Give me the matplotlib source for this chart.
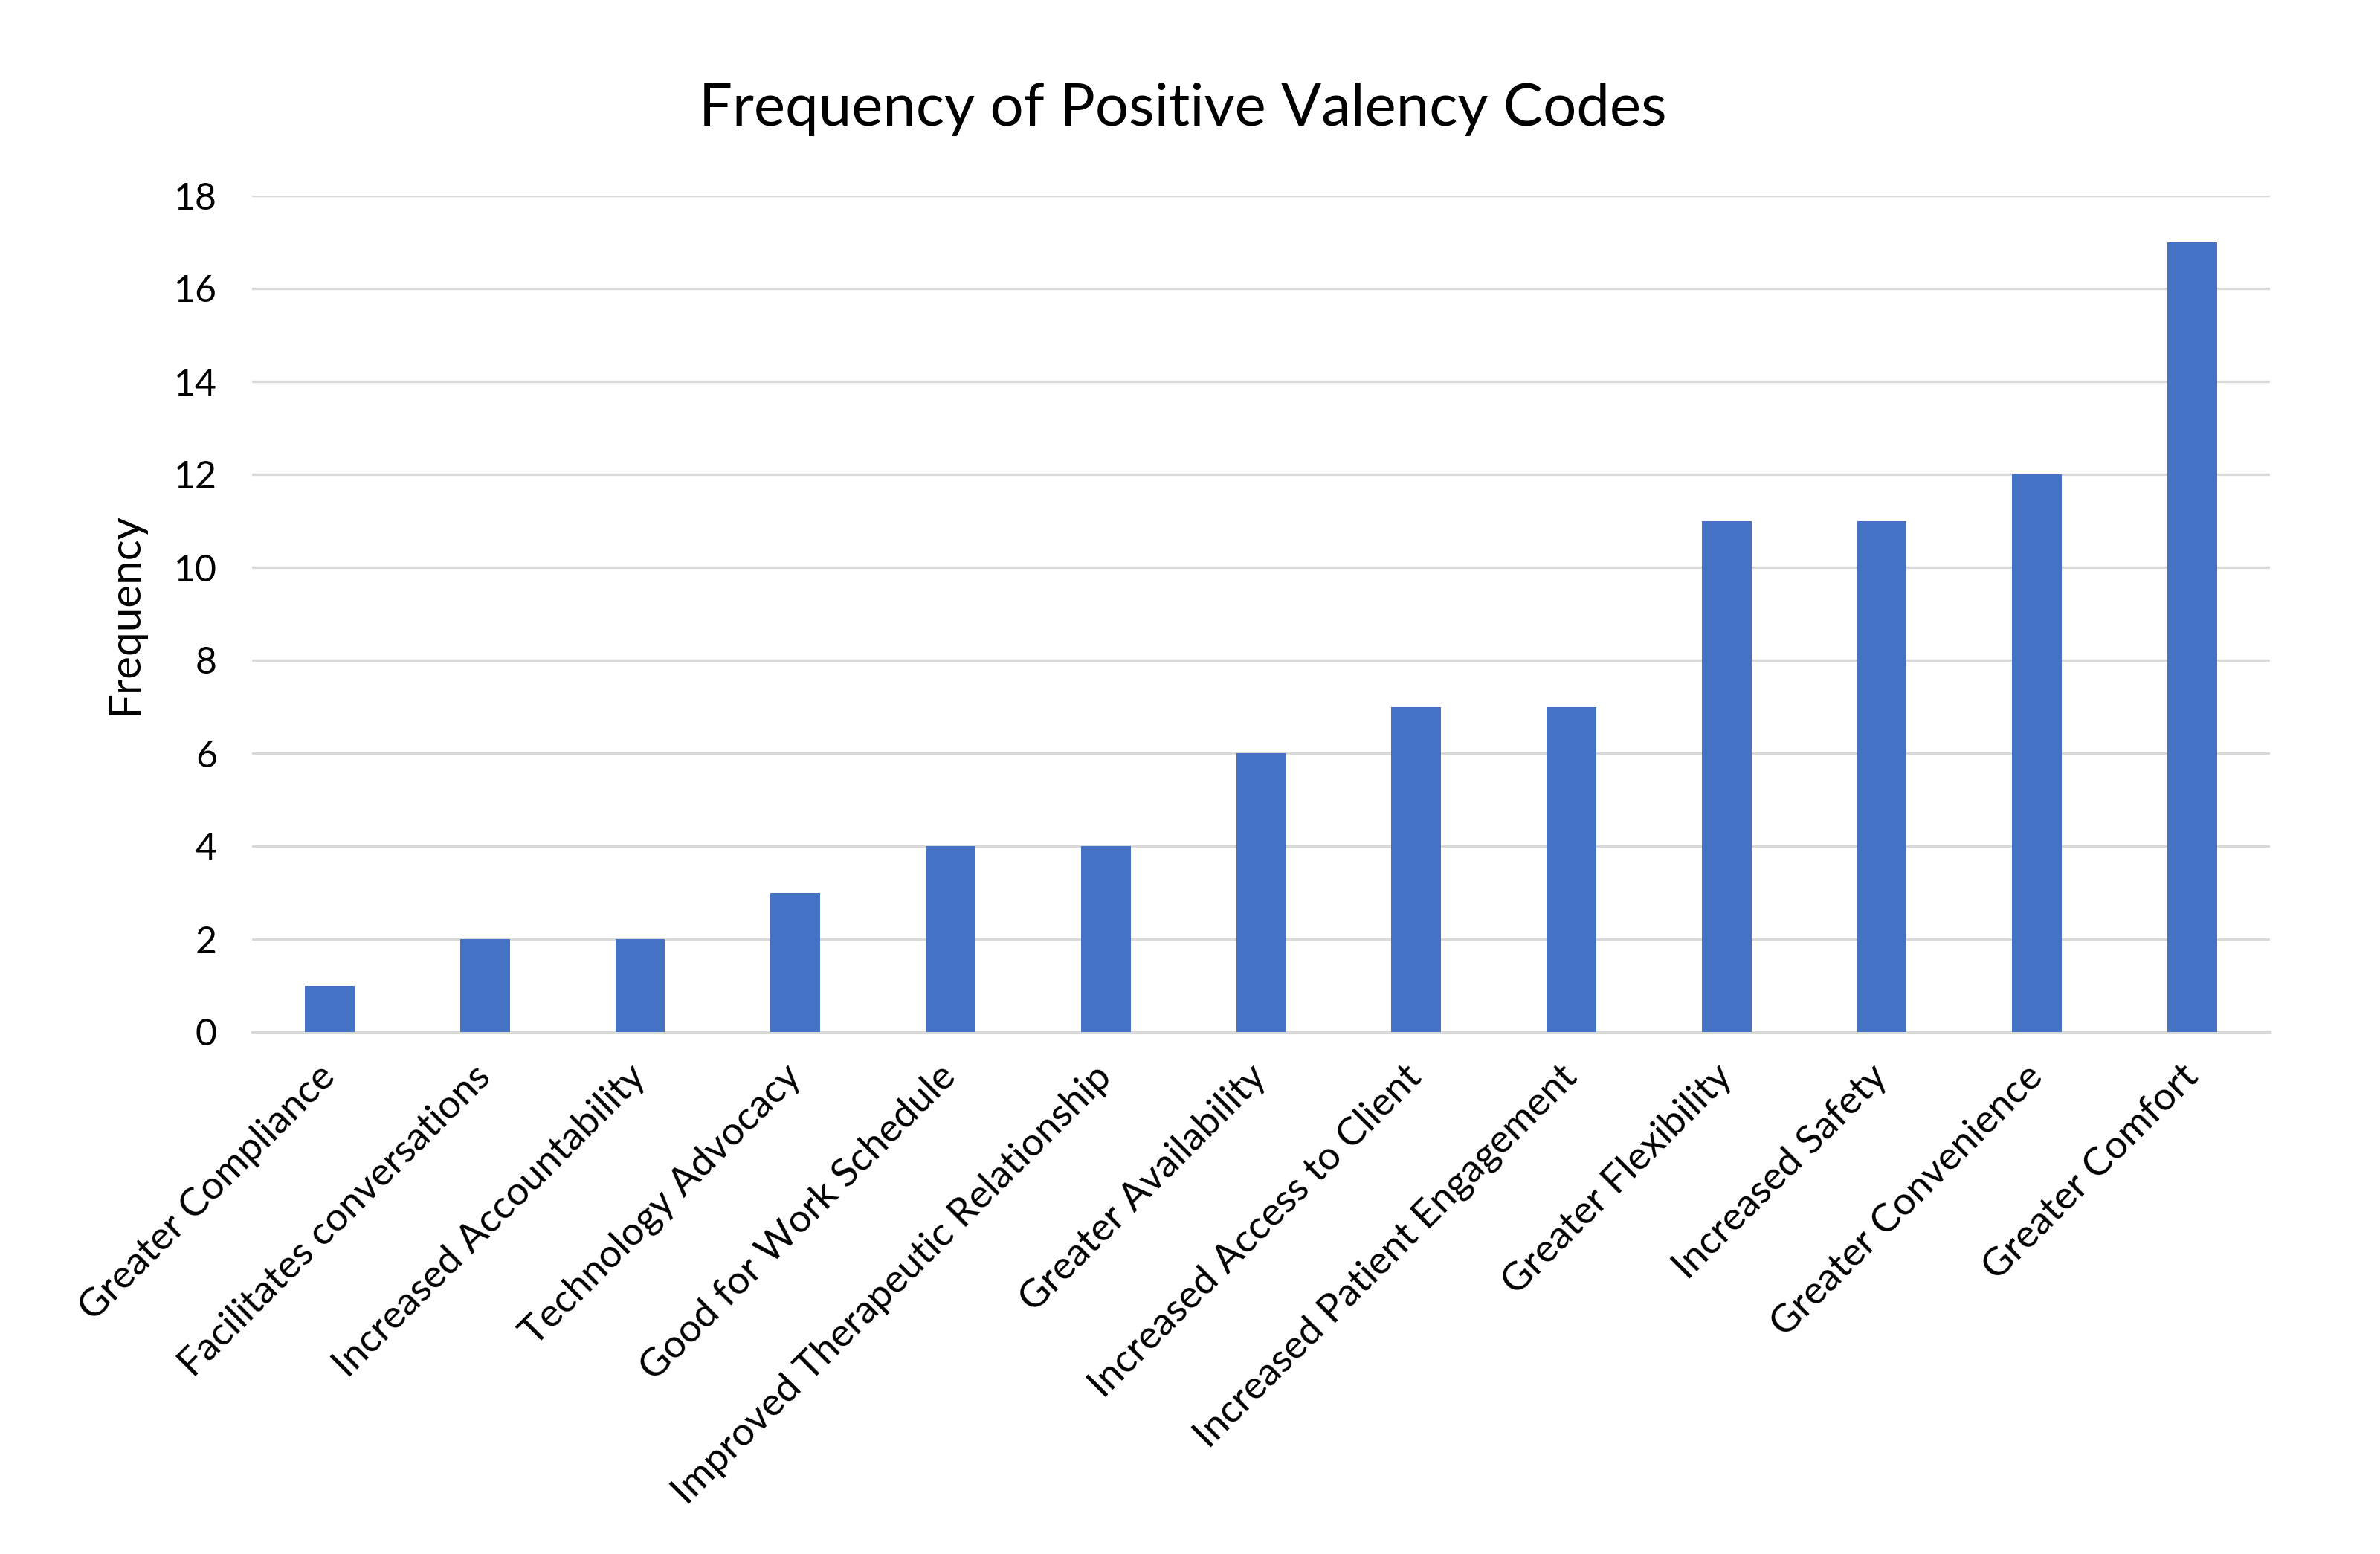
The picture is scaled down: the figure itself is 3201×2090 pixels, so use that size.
import matplotlib.pyplot as plt
from matplotlib.transforms import ScaledTranslation

# Data
categories = [
    'Greater Compliance', 'Facilitates conversations', 'Increased Accountability',
    'Technology Advocacy', 'Good for Work Schedule', 'Improved Therapeutic Relationship',
    'Greater Availability', 'Increased Access to Client', 'Increased Patient Engagement',
    'Greater Flexibility', 'Increased Safety', 'Greater Convenience', 'Greater Comfort',
]
frequency = [1, 2, 2, 3, 4, 4, 6, 7, 7, 11, 11, 12, 17]
yticks = [0, 2, 4, 6, 8, 10, 12, 14, 16, 18]

plt.rcParams['font.family'] = ['Lato', 'DejaVu Sans']

fig = plt.figure(figsize=(16.005, 10.45), dpi=200)
ax = fig.add_axes([339 / 3201, 1 - 1388 / 2090, (3053 - 339) / 3201, 1125 / 2090])

x = list(range(len(categories)))
ax.bar(x, frequency, width=0.32, color='#4472C4', zorder=3)

ax.set_xlim(-0.5, len(categories) - 0.5)
ax.set_ylim(0, 18)
ax.set_yticks(yticks)
ax.yaxis.grid(True, color='#d9d9d9', linewidth=1.2, zorder=0)
ax.set_axisbelow(True)

for side in ['top', 'right', 'left']:
    ax.spines[side].set_visible(False)
ax.spines['bottom'].set_color('#d9d9d9')
ax.spines['bottom'].set_linewidth(1.2)

ax.tick_params(axis='y', length=0, pad=17, labelsize=18)
ax.tick_params(axis='x', length=0, pad=13, labelsize=19)
ax.set_xticks(x)
ax.set_xticklabels(categories, rotation=45, ha='right', rotation_mode='anchor')
# nudge the rotated labels a little to the left, as in the reference
shift = ScaledTranslation(-6 / 72, 0, fig.dpi_scale_trans)
for lbl in ax.get_xticklabels():
    lbl.set_transform(lbl.get_transform() + shift)

ax.set_ylabel('Frequency', fontsize=21, labelpad=14)

fig.text(0.497, 1 - 147 / 2090, 'Frequency of Positive Valency Codes',
         ha='center', va='center', fontsize=28.7)

fig.savefig('out.png', dpi=200, facecolor='white')
